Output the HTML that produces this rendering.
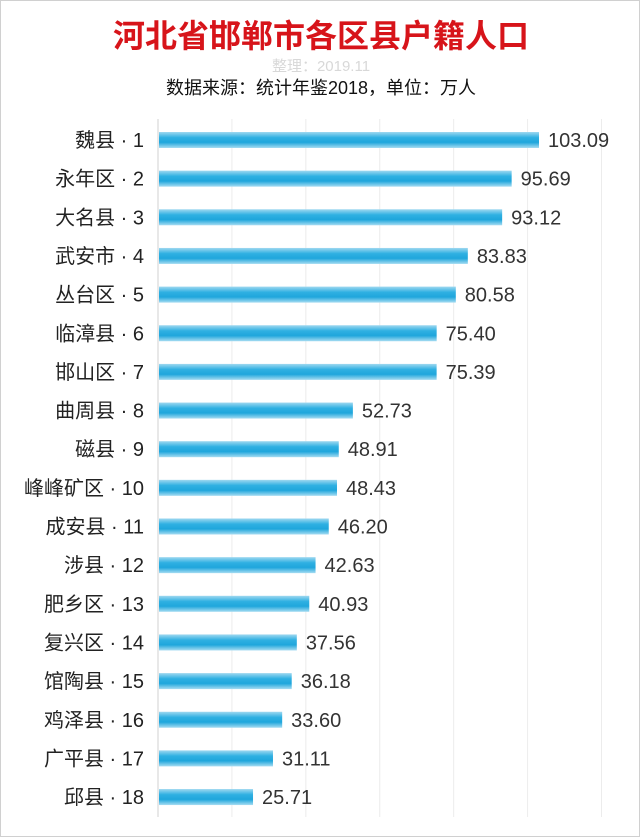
<!DOCTYPE html>
<html><head><meta charset="utf-8"><style>
body{margin:0;background:#fff;}
#wrap{position:relative;width:638px;height:835px;border:1px solid #d0d0d0;font-family:"Liberation Sans","Noto Sans CJK SC",sans-serif;overflow:hidden;background:#fff}
.t{position:absolute;left:0;width:640px;text-align:center;white-space:nowrap}
</style></head><body>
<div id="wrap">
<div class="t" style="top:10px;font-size:32px;font-weight:bold;color:#d7141a;">河北省邯郸市各区县户籍人口</div>
<div class="t" style="top:54px;font-size:15px;color:#d8d8d8;">整理：2019.11</div>
<div class="t" style="top:73px;font-size:18px;color:#111;">数据来源：统计年鉴2018，单位：万人</div>
<svg id="chart" width="640" height="837" style="position:absolute;left:0;top:0">
<defs><linearGradient id="g" x1="0" y1="0" x2="0" y2="1">
<stop offset="0" stop-color="#9fd8f0"/><stop offset="0.35" stop-color="#2fb0e2"/><stop offset="0.65" stop-color="#1fa6dc"/><stop offset="1" stop-color="#a6dcf2"/></linearGradient></defs>
</svg>
</div>
<script>
const categories=["魏县 · 1","永年区 · 2","大名县 · 3","武安市 · 4","丛台区 · 5","临漳县 · 6","邯山区 · 7","曲周县 · 8","磁县 · 9","峰峰矿区 · 10","成安县 · 11","涉县 · 12","肥乡区 · 13","复兴区 · 14","馆陶县 · 15","鸡泽县 · 16","广平县 · 17","邱县 · 18"];
const values=[103.09,95.69,93.12,83.83,80.58,75.40,75.39,52.73,48.91,48.43,46.20,42.63,40.93,37.56,36.18,33.60,31.11,25.71];
const gridTicks=[20,40,60,80,100,120];
const svg=document.getElementById('chart');const NS='http://www.w3.org/2000/svg';
const x0=157,scale=(538-157)/103.09;
const xs=v=>x0+v*scale;
const ys=i=>139+i*38.65;
function mk(t,a){const e=document.createElementNS(NS,t);for(const k in a)e.setAttribute(k,a[k]);svg.appendChild(e);return e;}
gridTicks.forEach(v=>{const l=mk('line',{x1:xs(v),x2:xs(v),y1:118,y2:816,stroke:'#ececec','stroke-width':1});

});
const ax=mk('line',{x1:x0,x2:x0,y1:118,y2:816,stroke:'#d0d0d0','stroke-width':1});


values.forEach((v,i)=>{const y=ys(i);
const r=mk('rect',{x:x0+1,y:y-8,width:xs(v)-x0-1,height:16,fill:'url(#g)'});


const lb=mk('text',{x:143,y:y+7,'text-anchor':'end','font-size':20,fill:'#222','font-family':'"Liberation Sans","Noto Sans CJK SC",sans-serif'});lb.textContent=categories[i];


const vl=mk('text',{x:xs(v)+9,y:y+7,'font-size':20,fill:'#333','font-family':'"Liberation Sans",sans-serif'});vl.textContent=v.toFixed(2);


});
</script>
</body></html>
